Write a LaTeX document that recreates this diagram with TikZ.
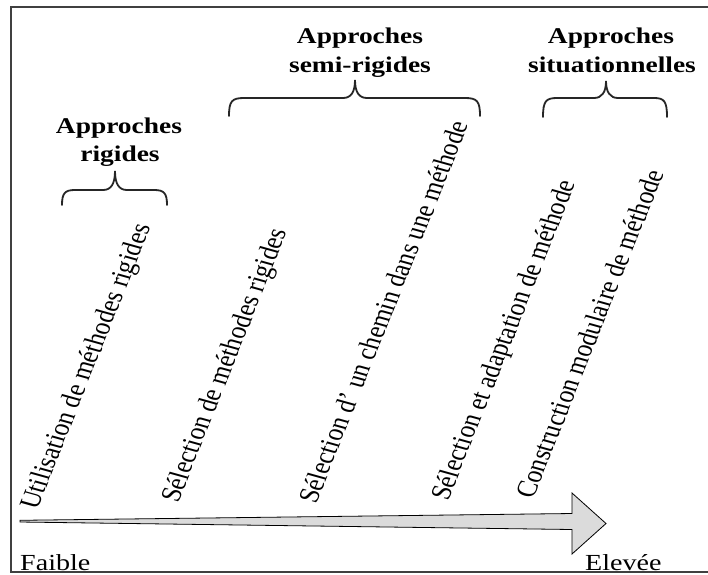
\documentclass[tikz,border=0pt]{standalone}
\usepackage{fontspec}
\setmainfont{Liberation Serif}
\usepackage{graphicx}
\tikzset{
  slantlabel/.style={xscale=1.2, rotate=71.5, transform shape, anchor=base west, inner sep=0pt, font=\fontsize{24}{28}\selectfont},
  headline/.style={anchor=base, inner sep=0pt, font=\fontsize{22.5}{27}\selectfont\bfseries},
  endlabel/.style={anchor=base west, inner sep=0pt, font=\fontsize{23}{27}\selectfont},
  bracestyle/.style={line width=1.8pt, draw=black!85, line cap=round},
  framestyle/.style={line width=1.5pt, draw=black!75},
  arrowstyle/.style={fill=black!14, draw=black, line width=0.8pt, line join=miter},
}
\newcommand{\stretchtxt}[1]{\scalebox{1.22}[1]{#1}}
\begin{document}
\begin{tikzpicture}[x=1pt,y=-1pt]
\useasboundingbox (0,0) rectangle (708,574);
\fill[white] (0,0) rectangle (708,574);
% frame
\draw[framestyle] (710,7) -- (11,7) -- (11,572) -- (710,572);
% arrow
\coordinate (tail) at (20,521);
\coordinate (tip) at (606,523.5);
\draw[arrowstyle] (20,520.3) -- (572,513.5) -- (572,493) -- (tip) -- (572,554) -- (572,529.5) -- (20,522) -- cycle;
% end labels
\node[endlabel] (faible) at (20,570) {\stretchtxt{Faible}};
\node[endlabel] (elevee) at (585,570) {\stretchtxt{Elevée}};
% slanted labels
\begin{scope}[shift={(37,511)}]
  \node[slantlabel] (l1) at (0,0) {Utilisation de méthodes rigides};
\end{scope}
\begin{scope}[shift={(178,504)}]
  \node[slantlabel] (l2) at (0,0) {Sélection de méthodes rigides};
\end{scope}
\begin{scope}[shift={(316,505)}]
  \node[slantlabel] (l3) at (0,0) {Sélection d’ un chemin dans une méthode};
\end{scope}
\begin{scope}[shift={(448,502)}]
  \node[slantlabel] (l4) at (0,0) {Sélection et adaptation de méthode};
\end{scope}
\begin{scope}[shift={(533,500)}]
  \node[slantlabel] (l5) at (0,0) {Construction modulaire de méthode};
\end{scope}
% headings
\node[headline] (h1a) at (119,133) {\stretchtxt{Approches}};
\node[headline] (h1b) at (120,161) {\stretchtxt{rigides}};
\node[headline] (h2a) at (360,43) {\stretchtxt{Approches}};
\node[headline] (h2b) at (360,72) {\stretchtxt{semi-rigides}};
\node[headline] (h3a) at (611,43) {\stretchtxt{Approches}};
\node[headline] (h3b) at (612,72) {\stretchtxt{situationnelles}};
% braces
\draw[bracestyle] (62,205) .. controls (62,193) and (65,190) .. (75,190) -- (103,190) .. controls (111,190) and (115,184) .. (115,171) .. controls (115,184) and (119,190) .. (127,190) -- (154,190) .. controls (164,190) and (167,193) .. (167,205);
\draw[bracestyle] (229,116) .. controls (229,101) and (232,98) .. (244,98) -- (343,98) .. controls (351,98) and (355,92) .. (355,80) .. controls (355,92) and (359,98) .. (367,98) -- (465,98) .. controls (477,98) and (480,101) .. (480,116);
\draw[bracestyle] (543,117) .. controls (543,101) and (546,98) .. (557,98) -- (594,98) .. controls (602,98) and (606,92) .. (606,81) .. controls (606,92) and (610,98) .. (618,98) -- (654,98) .. controls (664,98) and (667,101) .. (667,117);
\end{tikzpicture}
\end{document}
